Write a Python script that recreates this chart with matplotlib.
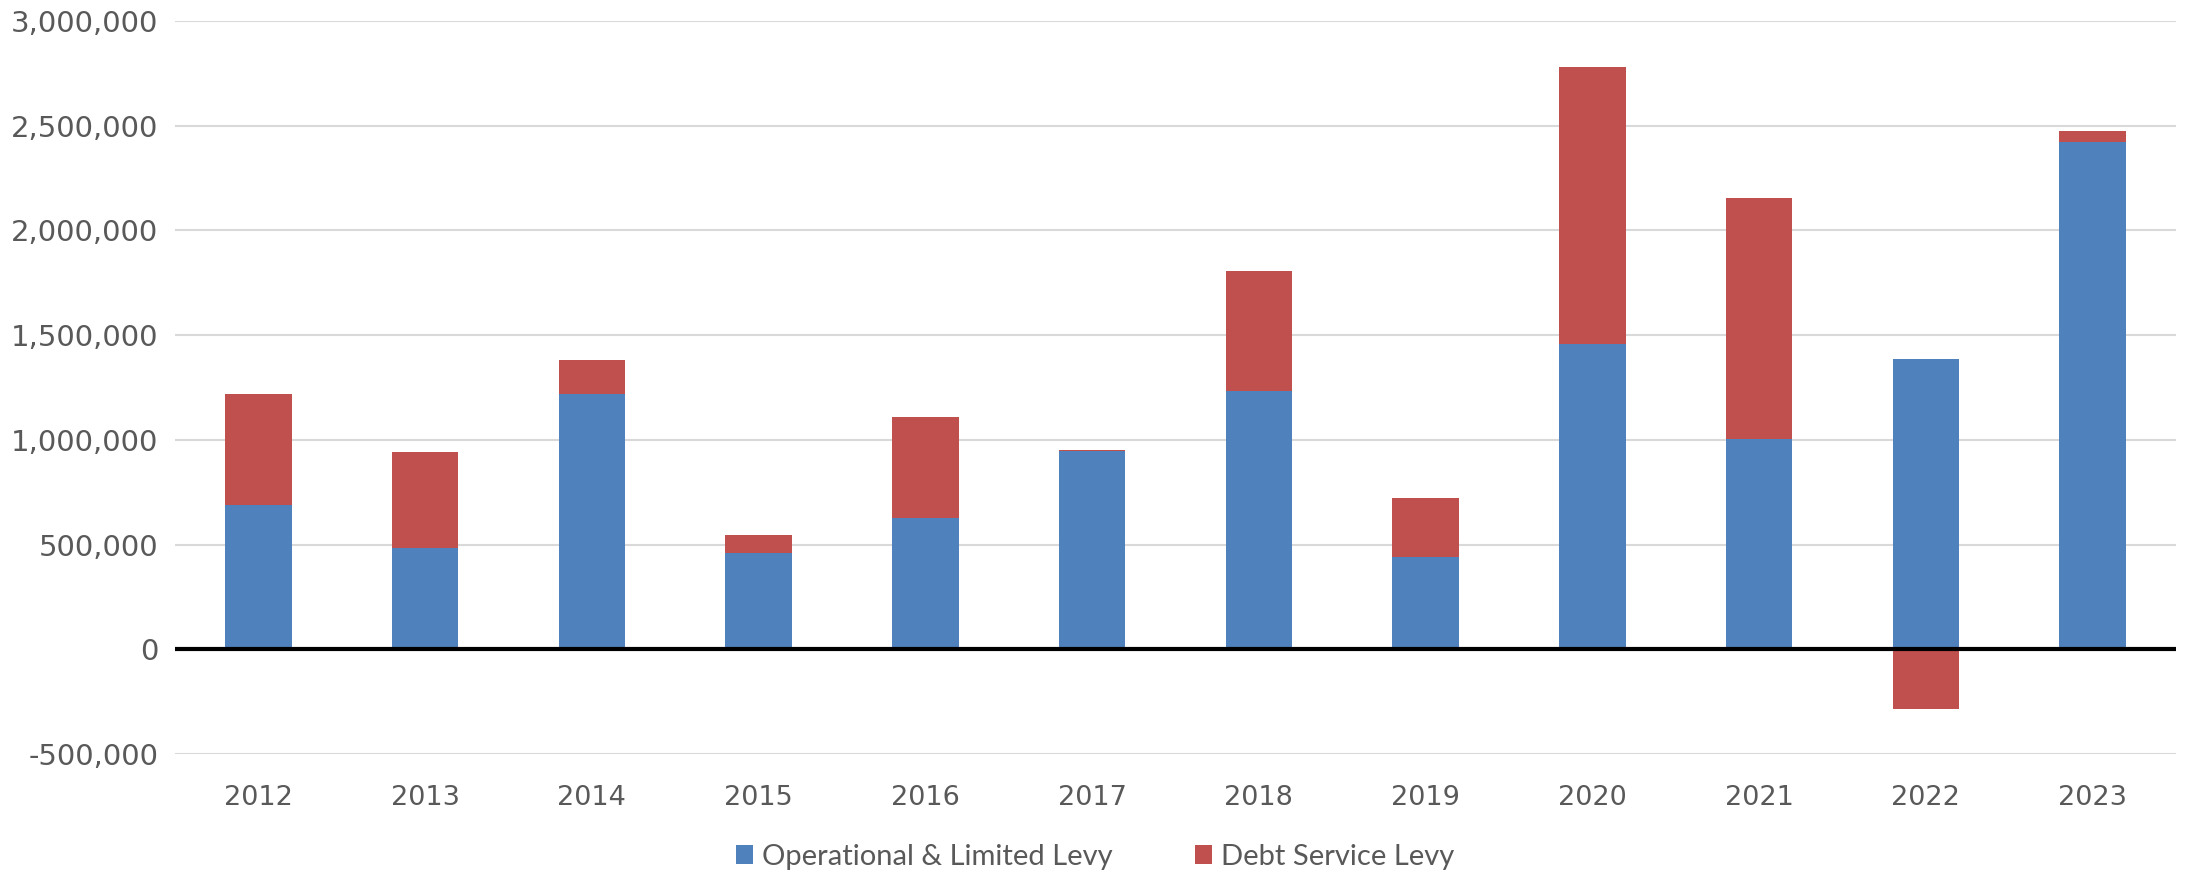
import matplotlib.pyplot as plt
import numpy as np
from matplotlib.ticker import FuncFormatter

# data
years = ['2012', '2013', '2014', '2015', '2016', '2017',
         '2018', '2019', '2020', '2021', '2022', '2023']
operational = [690000, 483000, 1220000, 460000, 628000, 945000,
               1235000, 440000, 1460000, 1005000, 1385000, 2423000]
debt_service = [530000, 457000, 163000, 85000, 480000, 7000,
                570000, 280000, 1318000, 1151000, -287000, 54000]

blue = '#4F81BD'
red = '#C0504D'
grey_text = '#595959'

fig = plt.figure(figsize=(21.9, 8.75), dpi=100)
ax = fig.add_axes([0.0799, 0.1383, 0.9137, 0.8377])

x = np.arange(len(years))
ops = np.array(operational)
debt = np.array(debt_service)
# Excel-style stacking: negatives start from zero
debt_bottom = np.where(debt >= 0, ops, 0)

ax.bar(x, ops, width=0.4, color=blue, label='Operational & Limited Levy', zorder=2)
ax.bar(x, debt, width=0.4, bottom=debt_bottom, color=red, label='Debt Service Levy', zorder=2)

ax.set_xlim(-0.5, len(years) - 0.5)
ax.set_ylim(-500000, 3000000)
ax.set_yticks(np.arange(-500000, 3000001, 500000))
ax.yaxis.set_major_formatter(FuncFormatter(lambda v, p: f'{int(v):,}'))
ax.set_xticks(x)
ax.set_xticklabels(years)

ax.grid(axis='y', color='#D9D9D9', linewidth=1.5, zorder=0)
ax.axhline(0, color='black', linewidth=3, zorder=3)
for s in ax.spines.values():
    s.set_visible(False)
ax.tick_params(axis='both', length=0, labelcolor=grey_text)
ax.tick_params(axis='y', pad=12, labelsize=21)
ax.tick_params(axis='x', pad=22, labelsize=19.5)

leg = fig.legend(loc='center', bbox_to_anchor=(0.5, 0.021), ncol=2, frameon=False,
                 prop={'family': ['Lato', 'DejaVu Sans'], 'size': 21},
                 handlelength=0.6, handleheight=0.6, handletextpad=0.3, columnspacing=2.8)
for t in leg.get_texts():
    t.set_color(grey_text)

fig.savefig('out.png', dpi=100)
